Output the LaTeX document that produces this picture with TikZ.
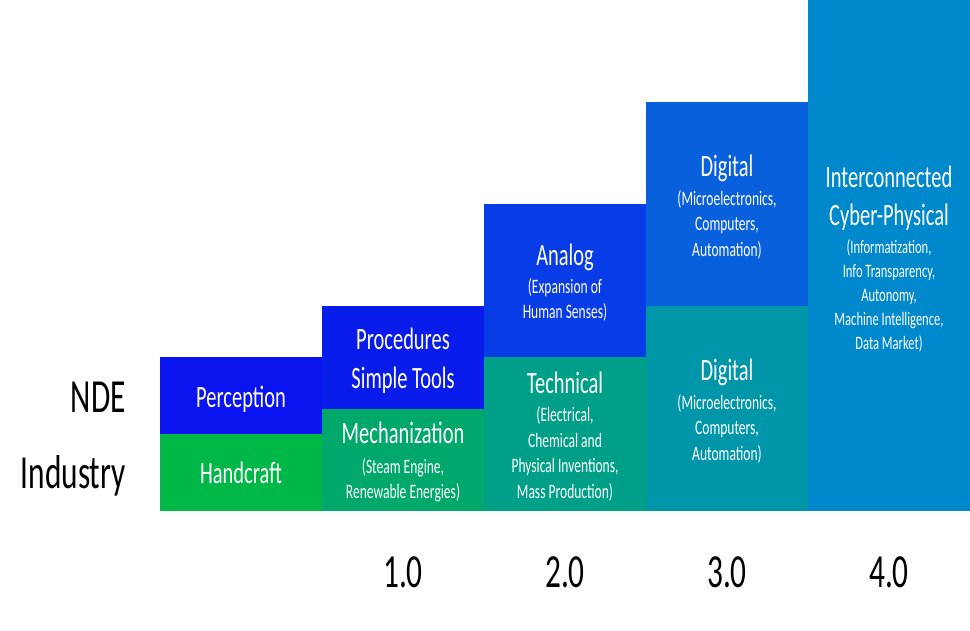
\documentclass[tikz,border=0pt]{standalone}
\usepackage{fontspec}
\setmainfont{Carlito}[FakeStretch=0.66]
\definecolor{cPerc}{RGB}{10,20,240}
\definecolor{cProc}{RGB}{10,28,236}
\definecolor{cHand}{RGB}{0,184,72}
\definecolor{cMech}{RGB}{0,168,108}
\definecolor{cAnal}{RGB}{8,60,230}
\definecolor{cTech}{RGB}{0,160,136}
\definecolor{cDigT}{RGB}{8,96,220}
\definecolor{cDigB}{RGB}{0,150,170}
\definecolor{cCyb}{RGB}{0,136,204}
\tikzset{
  ttl/.style={text=white, anchor=base, inner sep=0pt, font=\fontsize{31}{39}\selectfont, align=center},
  sub/.style={text=white, anchor=base, inner sep=0pt, font=\fontsize{20.5}{25.5}\selectfont, align=center},
  big/.style={text=black, inner sep=0pt, font=\fontsize{47.5}{50}\selectfont},
}
\begin{document}
\begin{tikzpicture}[x=1pt,y=-1pt]
\useasboundingbox[fill=white] (0,0) rectangle (970,630);
% blocks
\fill[cPerc] (160,357) rectangle (322,434);
\fill[cHand] (160,434) rectangle (322,511);
\fill[cProc] (322,306) rectangle (484,409);
\fill[cMech] (322,409) rectangle (484,511);
\fill[cAnal] (484,204) rectangle (646,357);
\fill[cTech] (484,357) rectangle (646,511);
\fill[cDigT] (646,102) rectangle (808,306);
\fill[cDigB] (646,306) rectangle (808,511);
\fill[cCyb] (808,0) rectangle (970,511);
% column 1
\node[ttl] (perc) at (241,407) {Perception};
\node[ttl] (hand) at (241,483) {Handcraft};
% column 2
\node[ttl] (proc1) at (403,349) {Procedures};
\node[ttl] (proc2) at (403,388) {Simple Tools};
\node[ttl] (mech) at (403,443) {Mechanization};
\node[sub] (mechs) at (403,498.5) {(Steam Engine,\\Renewable Energies)};
% column 3
\node[ttl] (anal) at (565,265) {Analog};
\node[sub] (anals) at (565,318.5) {(Expansion of\\Human Senses)};
\node[ttl] (tech) at (565,393) {Technical};
\node[sub] (techs) at (565,498) {(Electrical,\\Chemical and\\Physical Inventions,\\Mass Production)};
% column 4
\node[ttl] (digt) at (727,176) {Digital};
\node[sub] (digts) at (727,256) {(Microelectronics,\\Computers,\\Automation)};
\node[ttl] (digb) at (727,380) {Digital};
\node[sub] (digbs) at (727,460) {(Microelectronics,\\Computers,\\Automation)};
% column 5
\node[ttl] (cyb1) at (889,187) {Interconnected};
\node[ttl] (cyb2) at (889,225) {Cyber-Physical};
\node[sub, font=\fontsize{19}{24}\selectfont] (cybs) at (889,349) {(Informatization,\\Info Transparency,\\Autonomy,\\Machine Intelligence,\\Data Market)};
% side labels
\node[big, anchor=base east] (nde) at (126,412) {NDE};
\node[big, anchor=base east] (ind) at (126,488) {Industry};
% versions
\node[big, anchor=base] (v1) at (403,587) {1.0};
\node[big, anchor=base] (v2) at (565,587) {2.0};
\node[big, anchor=base] (v3) at (727,587) {3.0};
\node[big, anchor=base] (v4) at (889,587) {4.0};
\end{tikzpicture}
\end{document}
